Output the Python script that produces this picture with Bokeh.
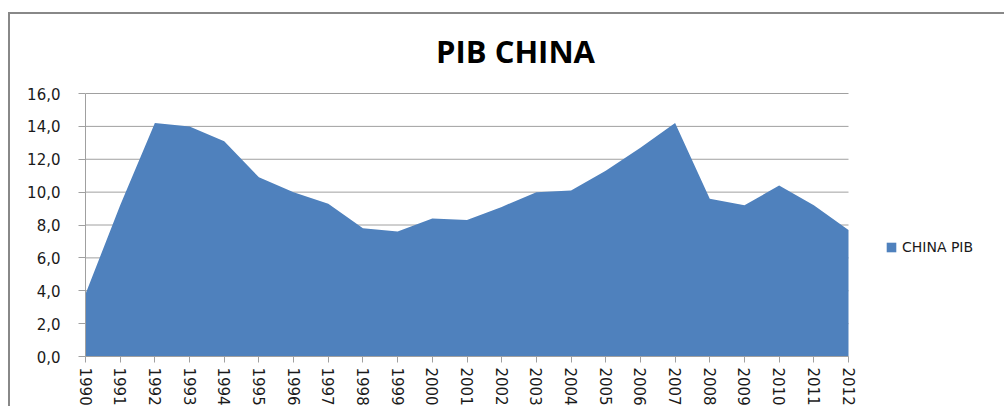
from bokeh.plotting import figure
from bokeh.models import FixedTicker, Legend, LegendItem, Label, Range1d
from bokeh.embed import file_html
from bokeh.resources import INLINE

years = [1990, 1991, 1992, 1993, 1994, 1995, 1996, 1997, 1998, 1999, 2000, 2001,
         2002, 2003, 2004, 2005, 2006, 2007, 2008, 2009, 2010, 2011, 2012]
pib = [3.8, 9.2, 14.2, 14.0, 13.1, 10.9, 10.0, 9.3, 7.8, 7.6, 8.4, 8.3,
       9.1, 10.0, 10.1, 11.3, 12.7, 14.2, 9.6, 9.2, 10.4, 9.2, 7.7]
y_ticks = [0, 2, 4, 6, 8, 10, 12, 14, 16]
y_tick_labels = ["0,0", "2,0", "4,0", "6,0", "8,0", "10,0", "12,0", "14,0", "16,0"]
x_tick_labels = ["1990", "1991", "1992", "1993", "1994", "1995", "1996", "1997",
                 "1998", "1999", "2000", "2001", "2002", "2003", "2004", "2005",
                 "2006", "2007", "2008", "2009", "2010", "2011", "2012"]
title_text = "PIB CHINA"
series_name = "CHINA PIB"

FILL = "#4F81BD"
GRAY = "#A0A0A0"
FONT = "DejaVu Sans"

# layout (pixels): canvas 996x394; plotted area 763x263 at (75, 79) inside canvas,
# the frame is extended to the right/top so title and legend are drawn inside it
W, H = 996, 394
BL, BB = 75, 52
PLOT_W, PLOT_H = 763, 263
frame_w = W - BL
frame_h = H - BB
x_end = years[0] + (years[-1] - years[0]) * frame_w / PLOT_W
y_end = y_ticks[0] + (y_ticks[-1] - y_ticks[0]) * frame_h / PLOT_H

p = figure(width=W, height=H, output_backend="svg", toolbar_location=None,
           x_range=Range1d(years[0], x_end), y_range=Range1d(y_ticks[0], y_end),
           min_border_left=BL, min_border_right=0, min_border_top=0,
           min_border_bottom=BB, title_location=None)
p.margin = (12, 0, 0, 8)
p.styles = {"border-left": "2px solid #888888", "border-top": "2px solid #888888"}
p.outline_line_color = None
p.background_fill_color = "white"
p.border_fill_color = "white"

# horizontal gridlines limited to the plotted years
p.segment(x0=[years[0]] * len(y_ticks), x1=[years[-1]] * len(y_ticks),
          y0=y_ticks, y1=y_ticks, line_color=GRAY, line_width=1)

area = p.varea(x=years, y1=[0] * len(pib), y2=pib, fill_color=FILL)

p.xgrid.grid_line_color = None
p.ygrid.grid_line_color = None

p.yaxis.ticker = FixedTicker(ticks=y_ticks)
p.yaxis.major_label_overrides = dict(zip(y_ticks, y_tick_labels))
p.yaxis.bounds = (y_ticks[0], y_ticks[-1])
p.xaxis.ticker = FixedTicker(ticks=years)
p.xaxis.major_label_overrides = dict(zip(years, x_tick_labels))
p.xaxis.major_label_orientation = "vertical"
p.xaxis.bounds = (years[0], years[-1])

for ax in (p.xaxis, p.yaxis):
    ax.axis_line_color = GRAY
    ax.major_tick_line_color = GRAY
    ax.minor_tick_line_color = None
    ax.major_tick_in = 0
    ax.major_label_text_font = FONT
    ax.major_label_text_color = "#1a1a1a"
p.yaxis.major_tick_out = 7
p.yaxis.major_label_standoff = 18
p.yaxis.major_label_text_font_size = "15px"
p.xaxis.major_tick_out = 6
p.xaxis.major_label_standoff = 5
p.xaxis.major_label_text_font_size = "15px"

title = Label(x=430, y=306, x_units="screen", y_units="screen", text=title_text,
              text_font="Open Sans", text_font_style="bold", text_font_size="31px",
              text_align="center", text_baseline="middle", text_color="black")
p.add_layout(title)

legend = Legend(items=[LegendItem(label=series_name, renderers=[area])],
                location=(800, 101), padding=0, margin=0, border_line_color=None,
                background_fill_alpha=0, glyph_width=12, glyph_height=12,
                label_standoff=5, label_text_font=FONT, label_text_font_size="14px",
                label_text_color="#1a1a1a")
p.add_layout(legend)

open("out.html", "w").write(file_html(p, INLINE))
